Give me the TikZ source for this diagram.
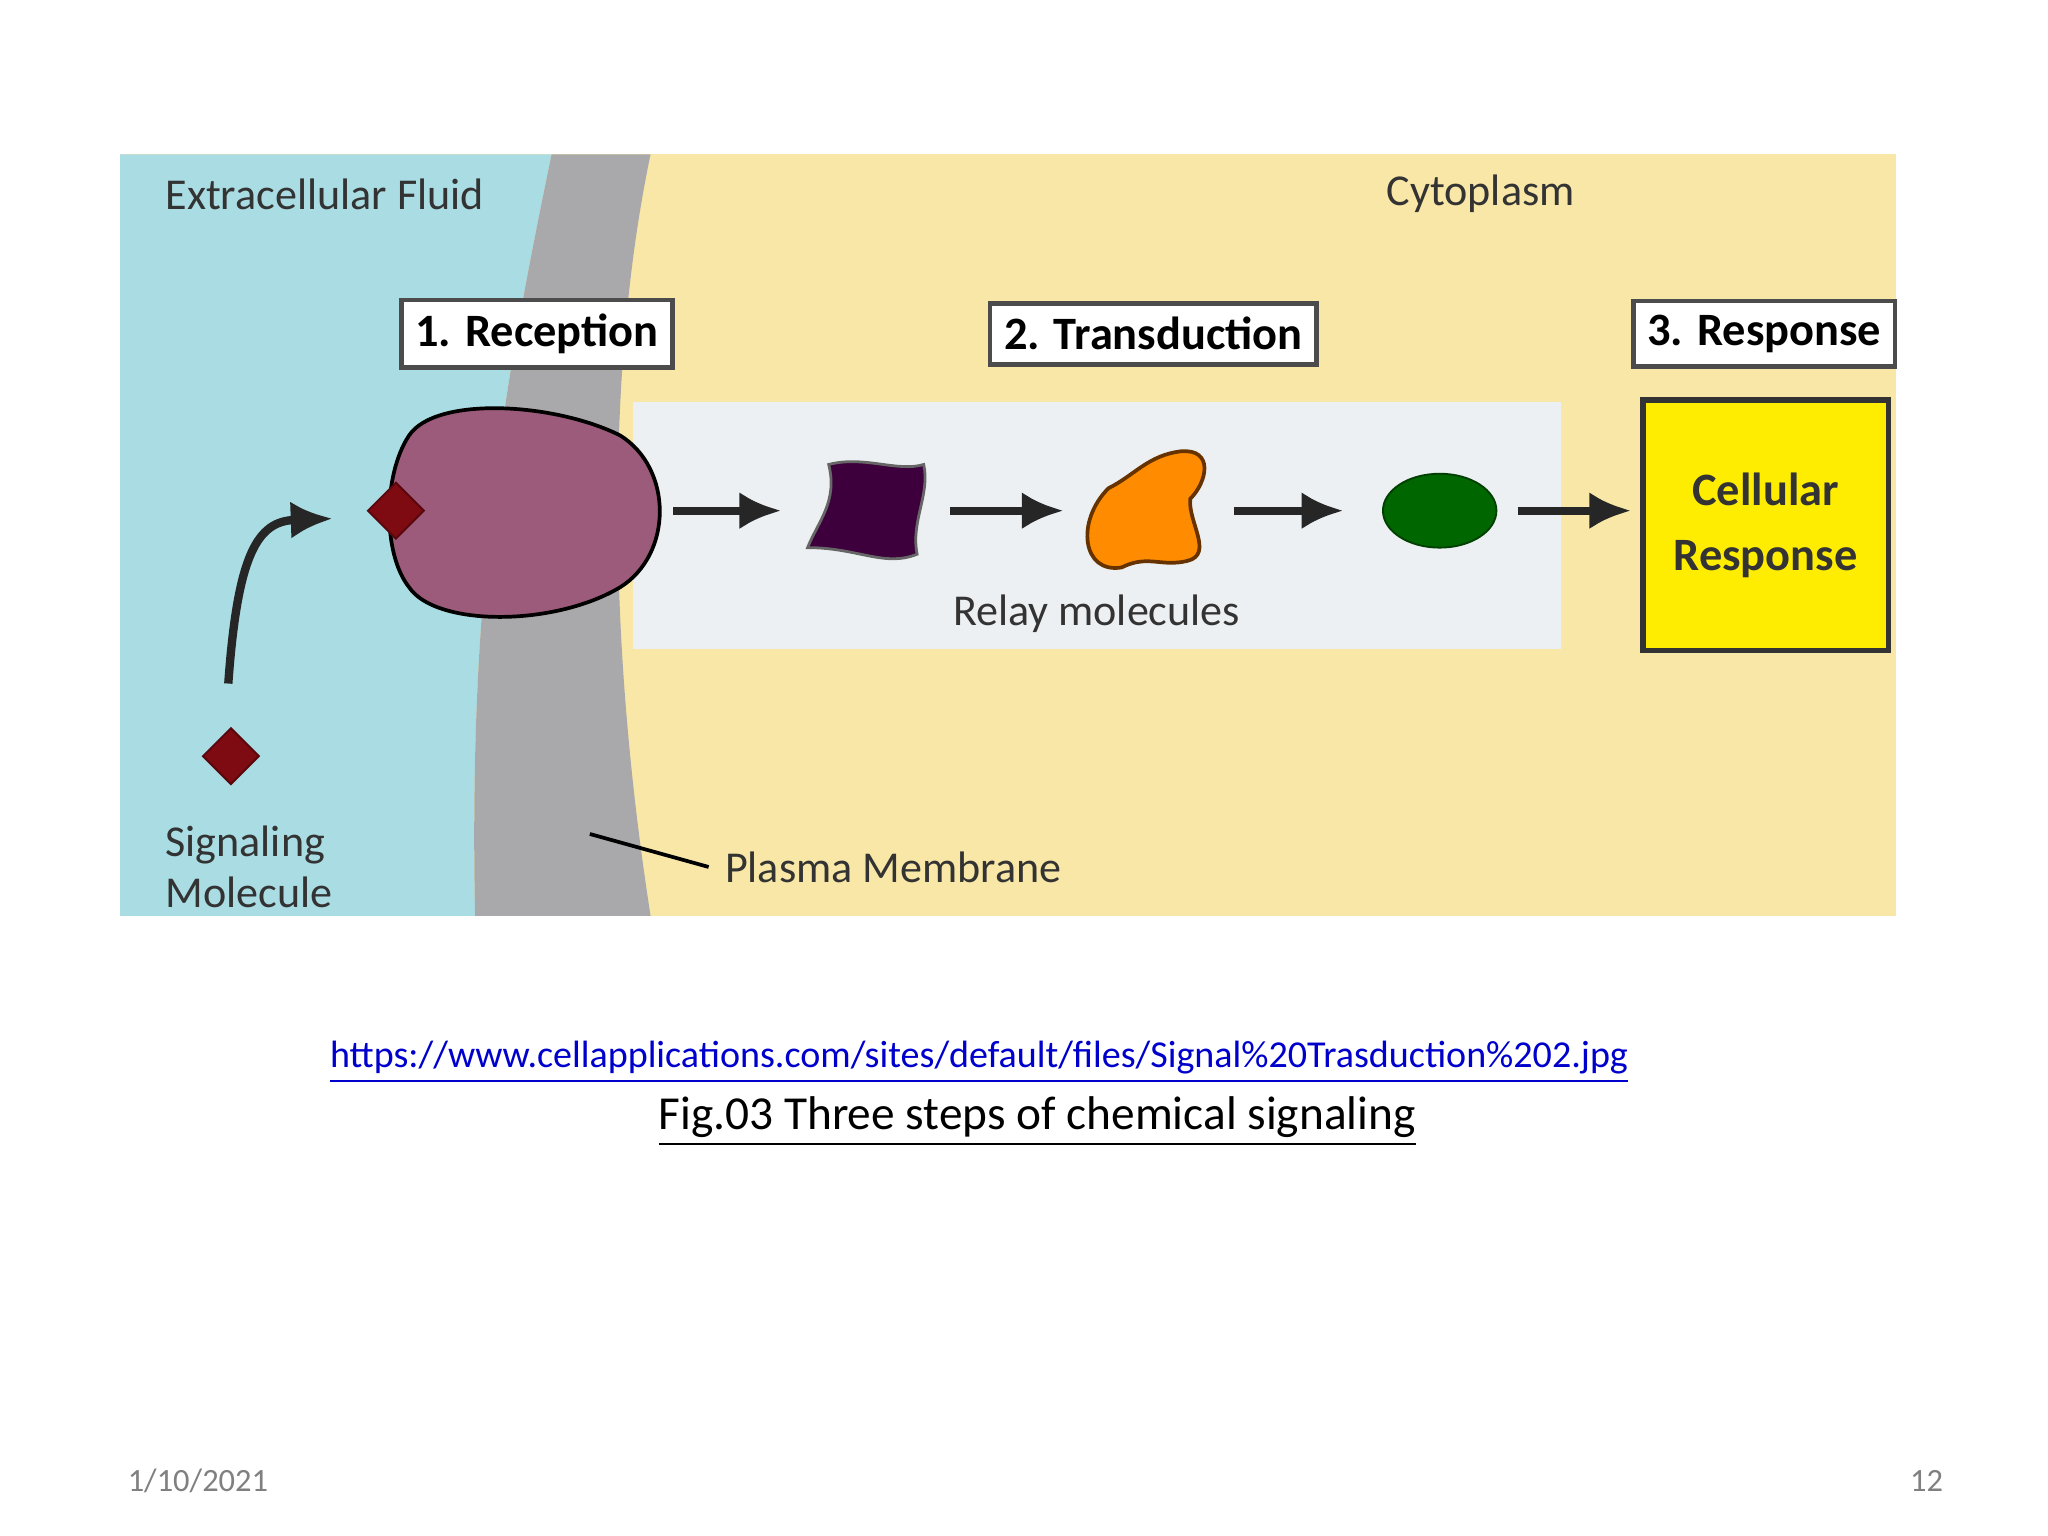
\documentclass[tikz,border=0pt]{standalone}
\usepackage{fontspec}
\setmainfont{Carlito}
\usetikzlibrary{arrows.meta,shapes.geometric}
\definecolor{fluid}{HTML}{A9DCE3}
\definecolor{memb}{HTML}{A9A9AB}
\definecolor{cyto}{HTML}{F8E7A6}
\definecolor{relay}{HTML}{EDF0F2}
\definecolor{recep}{HTML}{9C5B7A}
\definecolor{sig}{HTML}{7E0A12}
\tikzset{
 lbl/.style={draw=black!70,line width=1pt,fill=white,font=\bfseries\fontsize{10}{12}\selectfont,inner sep=3pt,minimum height=44*0.01cm},
 flowarr/.style={-{Latex[length=9pt,width=8pt]},line width=1.8pt,draw=black!85},
 txt/.style={font=\fontsize{9.5}{11}\selectfont,text=black!80}
}
\begin{document}
\begin{tikzpicture}[x=0.01cm,y=-0.01cm]
\useasboundingbox (0,0) rectangle (1552,1164);
\fill[white] (0,0) rectangle (1552,1164);
\fill[cyto] (91,117) rectangle (1437,694);
\fill[fluid] (91,117) -- (418,117) .. controls (380,300) and (355,450) .. (360,694) -- (91,694) -- cycle;
\fill[memb] (418,117) -- (493,117) .. controls (465,250) and (455,450) .. (493,694) -- (360,694) .. controls (355,450) and (380,300) .. (418,117) -- cycle;
\fill[relay] (480,305) rectangle (1183,492);
\node[txt,anchor=west] (ef) at (113,147) {Extracellular Fluid};
\node[txt] (cy) at (1122,147) {Cytoplasm};
\node[lbl,minimum width=200*0.01cm] (l1) at (407,253) {1. Reception};
\node[lbl,minimum width=241*0.01cm] (l2) at (874,253) {2. Transduction};
\node[lbl,minimum width=188*0.01cm] (l3) at (1337,253) {3. Response};
% receptor
\draw[fill=recep,line width=0.8pt] (310,330) .. controls (330,300) and (420,305) .. (470,330) .. controls (510,355) and (510,420) .. (470,445) .. controls (420,475) and (330,475) .. (310,445) .. controls (290,420) and (290,360) .. (310,330) -- cycle;
\node[fill=sig,draw=sig!70!black,minimum size=30*0.01cm,rotate=45,inner sep=0pt] (bound) at (300,387) {};
\node[fill=sig,draw=sig!70!black,minimum size=30*0.01cm,rotate=45,inner sep=0pt] (free) at (175,573) {};
\coordinate (cs) at (173,518);
\coordinate (ce) at (252,393);
\draw[flowarr] (cs) .. controls (180,420) and (195,395) .. (ce);
% relay
\draw[fill=black!20!violet!60!black,draw=black!60,line width=0.6pt] (628,352) .. controls (655,345) and (680,358) .. (700,352) .. controls (705,375) and (690,395) .. (695,420) .. controls (670,430) and (650,415) .. (612,415) .. controls (620,395) and (635,380) .. (628,352) -- cycle;
\draw[fill=orange!90!yellow,draw=black!60!orange,line width=0.8pt] (840,370) .. controls (860,360) and (870,345) .. (895,342) .. controls (920,340) and (915,365) .. (902,378) .. controls (900,395) and (920,420) .. (900,425) .. controls (880,430) and (870,420) .. (850,430) .. controls (820,435) and (815,395) .. (840,370) -- cycle;
\node[ellipse,fill=green!40!black,draw=green!25!black,minimum width=86*0.01cm,minimum height=56*0.01cm,inner sep=0pt] (m3) at (1091,387) {};
\node[draw=black!80,line width=1.2pt,fill=yellow!95!orange,minimum width=186*0.01cm,minimum height=190*0.01cm,align=center,font=\bfseries\fontsize{10}{14}\selectfont,text=black!80] (resp) at (1338,398) {Cellular\\Response};
\coordinate (a1) at (510,387); \coordinate (b1) at (592,387);
\coordinate (a2) at (720,387); \coordinate (b2) at (806,387);
\coordinate (a3) at (935,387); \coordinate (b3) at (1018,387);
\coordinate (a4) at (1150,387); \coordinate (b4) at (1236,387);
\draw[flowarr] (a1) -- (b1);
\draw[flowarr] (a2) -- (b2);
\draw[flowarr] (a3) -- (b3);
\draw[flowarr] (a4) -- (b4);
\node[txt] (rm) at (831,465) {Relay molecules};
\node[txt,anchor=west,align=left] (sm) at (113,657) {Signaling\\Molecule};
\node[txt,anchor=west] (pm) at (537,657) {Plasma Membrane};
\coordinate (pp) at (447,632);
\draw[line width=0.8pt] (pp) -- (pm.west);
\node[font=\fontsize{8.2}{10}\selectfont,text=blue!80!black] (url) at (742,805) {\underline{https://www.cellapplications.com/sites/default/files/Signal\%20Trasduction\%202.jpg}};
\node[font=\fontsize{10.2}{12}\selectfont] (cap) at (786,850) {\underline{Fig.03 Three steps of chemical signaling}};
\node[font=\fontsize{7}{8}\selectfont,text=black!50] (date) at (150,1122) {1/10/2021};
\node[font=\fontsize{7}{8}\selectfont,text=black!50] (pg) at (1460,1122) {12};
\end{tikzpicture}
\end{document}
